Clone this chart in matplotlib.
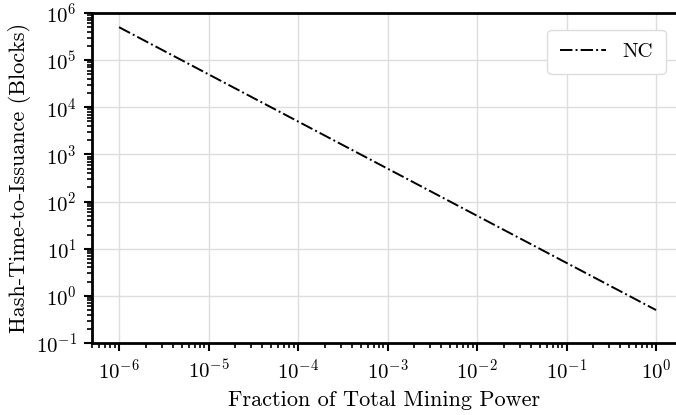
import numpy as np
import matplotlib
matplotlib.use("Agg")
import matplotlib.pyplot as plt
from matplotlib.ticker import LogLocator, NullFormatter

plt.rcParams["font.family"] = "serif"
plt.rcParams["font.serif"] = ["cmr10"]
plt.rcParams["mathtext.fontset"] = "cm"
plt.rcParams["axes.formatter.use_mathtext"] = True

# Hash-time-to-issuance against miner's share of total hash power
mining_fraction = [1e-6, 1e-5, 1e-4, 1e-3, 1e-2, 1e-1, 1e0]
blocks_nc = [5e5, 5e4, 5e3, 5e2, 5e1, 5e0, 5e-1]

fig = plt.figure(figsize=(6.76, 4.15), dpi=100)
ax = fig.add_axes([92 / 676, 1 - 343 / 415, 1 - 92 / 676, 330 / 415])

ax.plot(mining_fraction, blocks_nc, color="black", linestyle="-.", linewidth=1.4, label="NC")

ax.set_xscale("log")
ax.set_yscale("log")
ax.set_xlim(10 ** -6.302, 10 ** 0.223)
ax.set_ylim(1e-1, 1e6)

ax.xaxis.set_major_locator(LogLocator(base=10, numticks=20))
ax.yaxis.set_major_locator(LogLocator(base=10, numticks=20))
ax.xaxis.set_minor_locator(LogLocator(base=10, subs=np.arange(2, 10), numticks=20))
ax.yaxis.set_minor_locator(LogLocator(base=10, subs=np.arange(2, 10), numticks=20))
ax.xaxis.set_minor_formatter(NullFormatter())
ax.yaxis.set_minor_formatter(NullFormatter())

ax.grid(True, which="major", color="#dddddd", linewidth=1.0)
ax.set_axisbelow(True)

for side in ["left", "bottom", "top"]:
    ax.spines[side].set_linewidth(2.0)
ax.spines["right"].set_visible(False)

ax.tick_params(which="major", length=6, width=1.5, labelsize=15, direction="out", pad=5)
ax.tick_params(which="minor", length=3.5, width=1.2, direction="out")
ax.tick_params(top=False, right=False, which="both")

ax.set_xlabel("Fraction of Total Mining Power", fontsize=16, labelpad=6)
ax.set_ylabel("Hash-Time-to-Issuance (Blocks)", fontsize=16, labelpad=3)

ax.legend(loc="upper right", fontsize=15, frameon=True, fancybox=True,
          edgecolor="#dddddd", framealpha=1.0, handlelength=2.2,
          borderpad=0.6, bbox_to_anchor=(1.0, 0.98))

fig.savefig("out.png", dpi=100)
